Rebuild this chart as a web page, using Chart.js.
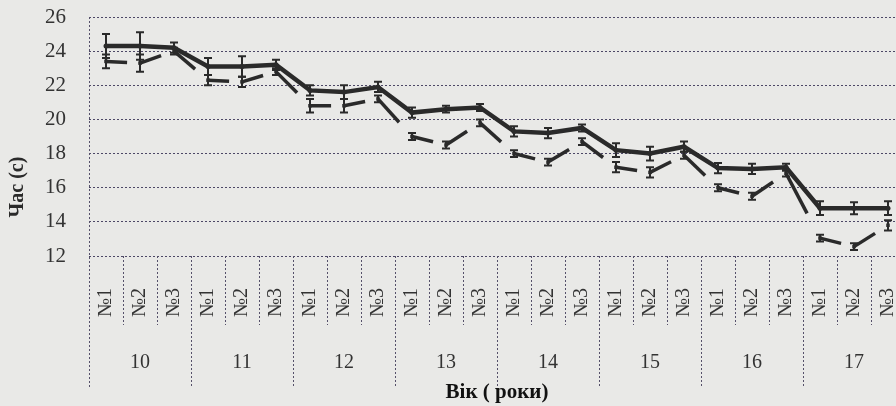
<!DOCTYPE html>
<html>
<head>
<meta charset="utf-8">
<script src="https://cdn.jsdelivr.net/npm/chart.js@4.4.0/dist/chart.umd.min.js"></script>
<style>
  html, body { margin: 0; padding: 0; background: #e9e9e7; overflow: hidden; }
  #wrap { width: 896px; height: 406px; overflow: hidden; }
</style>
</head>
<body>
<div id="wrap"><canvas id="grafico" width="912" height="406"></canvas></div>
<script>
// вікові групи та номери груп
const ages = ["10", "11", "12", "13", "14", "15", "16", "17"];
const groups = ["№1", "№2", "№3"];

// час (с), верхня лінія і нижня лінія
const timeUpper = [24.3, 24.3, 24.2, 23.1, 23.1, 23.2, 21.7, 21.6, 21.9, 20.4, 20.6, 20.7,
                   19.3, 19.2, 19.5, 18.2, 18.0, 18.4, 17.15, 17.1, 17.2, 14.8, 14.8, 14.8];
const timeLower = [23.4, 23.3, 24.0, 22.3, 22.2, 22.8, 20.8, 20.8, 21.2, 19.0, 18.5, 19.8,
                   18.0, 17.5, 18.7, 17.2, 16.9, 17.9, 16.0, 15.5, 16.85, 13.05, 12.55, 13.8];

// похибки
const errUpper = [0.7, 0.8, 0.3, 0.5, 0.6, 0.3, 0.3, 0.4, 0.3, 0.3, 0.2, 0.2,
                  0.3, 0.3, 0.2, 0.4, 0.4, 0.3, 0.3, 0.3, 0.2, 0.4, 0.35, 0.4];
const errLower = [0.4, 0.5, 0.2, 0.3, 0.3, 0.2, 0.4, 0.4, 0.2, 0.2, 0.2, 0.2,
                  0.2, 0.2, 0.2, 0.3, 0.3, 0.2, 0.2, 0.2, 0.2, 0.2, 0.2, 0.3];

const yTicks = [12, 14, 16, 18, 20, 22, 24, 26];

const labels = ages.flatMap(() => groups);
const serif = "'Liberation Serif', 'DejaVu Serif', serif";
const ink = "#2a2a2a";

// фон, розділювачі, підписи вікових груп, похибки
const decor = {
  id: "decor",
  beforeDraw(chart) {
    const c = chart.ctx;
    c.save();
    c.fillStyle = "#e9e9e7";
    c.fillRect(0, 0, chart.width, chart.height);
    c.restore();
  },
  afterDraw(chart) {
    const c = chart.ctx;
    const x = chart.scales.x;
    const area = chart.chartArea;
    const step = x.getPixelForValue(1) - x.getPixelForValue(0);
    c.save();
    c.strokeStyle = "#55506a";
    c.lineWidth = 1;
    c.setLineDash([2, 2]);
    for (let i = 0; i <= labels.length; i++) {
      const px = Math.round(x.getPixelForValue(i) - step / 2) + 0.5;
      const isGroup = i % groups.length === 0;
      c.beginPath();
      c.moveTo(px, isGroup && i === 0 ? area.top : area.bottom);
      c.lineTo(px, isGroup ? 388 : 325);
      c.stroke();
    }
    c.setLineDash([]);
    c.fillStyle = "#333";
    c.font = "20px " + serif;
    c.textAlign = "center";
    c.textBaseline = "middle";
    ages.forEach((a, k) => {
      const px = x.getPixelForValue(k * groups.length + 1);
      c.fillText(a, px, 363);
    });
    // назва осі Y
    c.save();
    c.translate(18, 187);
    c.rotate(-Math.PI / 2);
    c.font = "bold 20px " + serif;
    c.fillStyle = ink;
    c.fillText("Час (с)", 0, 0);
    c.restore();
    c.restore();
  },
  afterDatasetsDraw(chart) {
    const c = chart.ctx;
    const y = chart.scales.y;
    const errs = [errUpper, errLower];
    c.save();
    c.strokeStyle = ink;
    c.lineWidth = 2;
    chart.data.datasets.forEach((ds, d) => {
      const meta = chart.getDatasetMeta(d);
      meta.data.forEach((pt, i) => {
        const v = ds.data[i];
        const e = errs[d][i];
        const y1 = y.getPixelForValue(v + e);
        const y2 = y.getPixelForValue(v - e);
        c.beginPath();
        c.moveTo(pt.x, y1); c.lineTo(pt.x, y2);
        c.moveTo(pt.x - 4, y1); c.lineTo(pt.x + 4, y1);
        c.moveTo(pt.x - 4, y2); c.lineTo(pt.x + 4, y2);
        c.stroke();
      });
    });
    c.restore();
  }
};

new Chart(document.getElementById("grafico").getContext("2d"), {
  type: "line",
  data: {
    labels: labels,
    datasets: [
      {
        data: timeUpper,
        borderColor: ink,
        borderWidth: 4.5,
        pointRadius: 2.5,
        pointBackgroundColor: ink,
        pointBorderWidth: 0,
        tension: 0
      },
      {
        data: timeLower,
        borderColor: ink,
        borderWidth: 3.5,
        pointRadius: 2.5,
        pointStyle: "rect",
        pointBackgroundColor: ink,
        pointBorderWidth: 0,
        tension: 0,
        // лінія рветься: кожен відрізок видно лише частково
        segment: {
          borderDash: (s) => {
            const len = Math.hypot(s.p1.x - s.p0.x, s.p1.y - s.p0.y);
            return [len * 0.62 + (s.p0DataIndex % 2) * 0.01, 2000];
          }
        }
      }
    ]
  },
  options: {
    responsive: false,
    animation: false,
    layout: { padding: { top: 17, right: 7, bottom: 0, left: 0 } },
    plugins: { legend: { display: false }, tooltip: { enabled: false } },
    scales: {
      x: {
        offset: true,
        grid: { display: false, offset: true },
        border: { display: false },
        ticks: {
          autoSkip: false,
          minRotation: 90,
          maxRotation: 90,
          padding: 24,
          color: "#333",
          font: { family: serif, size: 20 }
        },
        title: {
          display: true,
          text: "Вік ( роки)",
          color: "#111",
          font: { family: serif, size: 21, weight: "bold" },
          padding: { top: 0, bottom: 1 }
        },
        afterFit: (s) => { s.height = 150; s.paddingLeft = 0; s.paddingRight = 0; }
      },
      y: {
        min: 12,
        max: 26,
        afterBuildTicks: (s) => { s.ticks = yTicks.map((v) => ({ value: v })); },
        grid: {
          color: "#4d4866",
          lineWidth: 1,
          drawTicks: false
        },
        border: { display: false, dash: [2, 2] },
        ticks: {
          padding: 23,
          color: "#333",
          font: { family: serif, size: 21 }
        },
        afterFit: (s) => { s.width = 89; s.paddingTop = 0; s.paddingBottom = 0; }
      }
    }
  },
  plugins: [decor]
});
</script>
</body>
</html>
